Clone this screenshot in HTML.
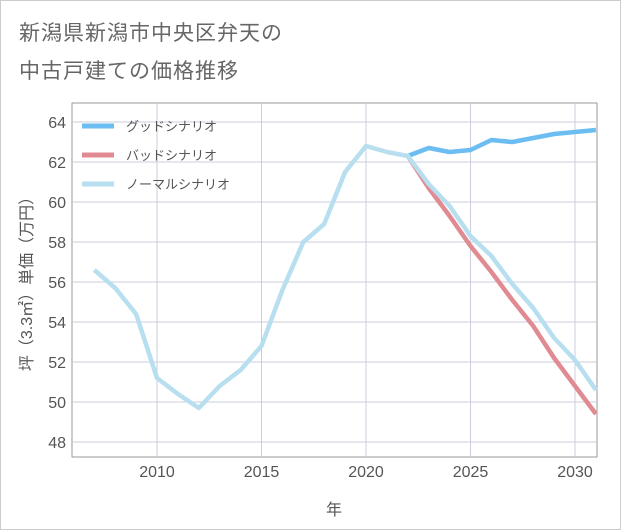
<!DOCTYPE html>
<html><head><meta charset="utf-8"><style>
body{margin:0;background:#fff;font-family:"Liberation Sans","Noto Sans CJK JP",sans-serif}
#wrap{position:relative;width:619px;height:528px;border:1px solid #ccc;background:#fff}
.title{position:absolute;left:18px;font-size:21px;color:#666;letter-spacing:1px}
</style></head><body>
<div id="wrap">
<div class="title" style="top:16px">新潟県新潟市中央区弁天の</div>
<div class="title" style="top:54px">中古戸建ての価格推移</div>
<svg id="svg" width="621" height="530" style="position:absolute;left:-1px;top:-1px"></svg>
</div>
<script>
const years=[2007,2008,2009,2010,2011,2012,2013,2014,2015,2016,2017,2018,2019,2020,2021,2022,2023,2024,2025,2026,2027,2028,2029,2030,2031];
const normal=[56.6,55.7,54.4,51.2,50.4,49.7,50.8,51.6,52.8,55.6,58.0,58.9,61.5,62.8,62.5,62.3,60.9,59.8,58.3,57.3,55.9,54.7,53.2,52.1,50.6];
const futureYears=[2022,2023,2024,2025,2026,2027,2028,2029,2030,2031];
const good=[62.3,62.7,62.5,62.6,63.1,63.0,63.2,63.4,63.5,63.6];
const bad=[62.3,60.7,59.3,57.8,56.5,55.1,53.8,52.2,50.8,49.4];
const yTicks=[48,50,52,54,56,58,60,62,64];
const xTicks=[2010,2015,2020,2025,2030];
const legendLabels=["グッドシナリオ","バッドシナリオ","ノーマルシナリオ"];
const colors=["#6bbdf2","#e08a92","#b8dff0"];
const L=72,R=597,T=103,B=457;
const x=v=>157+(v-2010)*20.9;
const y=v=>442-(v-48)*20;
const svg=document.getElementById('svg');
const NS='http://www.w3.org/2000/svg';
function el(t,a,p){const e=document.createElementNS(NS,t);for(const k in a)e.setAttribute(k,a[k]);(p||svg).appendChild(e);return e;}
const frame=el('rect',{x:L,y:T,width:R-L,height:B-T,fill:'none',stroke:'#999','stroke-width':1});


yTicks.forEach(v=>{
 const g=el('line',{x1:L,x2:R,y1:y(v),y2:y(v),stroke:'#ccd','stroke-width':1});
 
 
 const t=el('text',{x:66,y:y(v)+6,'text-anchor':'end','font-size':16,fill:'#555'});
 t.textContent=v;
 
 
});
xTicks.forEach(v=>{
 const g=el('line',{x1:x(v),x2:x(v),y1:T,y2:B,stroke:'#ccd','stroke-width':1});
 
 
 const t=el('text',{x:x(v),y:477,'text-anchor':'middle','font-size':16,fill:'#555'});
 t.textContent=v;
 
 
});
const xt=el('text',{x:334,y:515,'text-anchor':'middle','font-size':16,fill:'#555'});
xt.textContent='年';


const yt=el('text',{x:0,y:0,'text-anchor':'middle','font-size':16,fill:'#555',transform:'translate(32,280) rotate(-90)'});
yt.textContent='坪（3.3㎡）単価（万円）';


function line(xs,vs,c,name){
 const p=el('polyline',{points:xs.map((v,i)=>x(v)+','+y(vs[i])).join(' '),fill:'none',stroke:c,'stroke-width':4.5,'stroke-linejoin':'round'});
 
 
}
line(futureYears,good,colors[0],'good-scenario-line');
line(futureYears,bad,colors[1],'bad-scenario-line');
line(years,normal,colors[2],'normal-scenario-line');
legendLabels.forEach((s,i)=>{
 const ly=126+i*29;
 const m=el('line',{x1:82,x2:114,y1:ly,y2:ly,stroke:colors[i],'stroke-width':5});
 
 
 const t=el('text',{x:126,y:ly+5,'font-size':13,fill:'#555'});
 t.textContent=s;
 
 
});
</script>
</body></html>
